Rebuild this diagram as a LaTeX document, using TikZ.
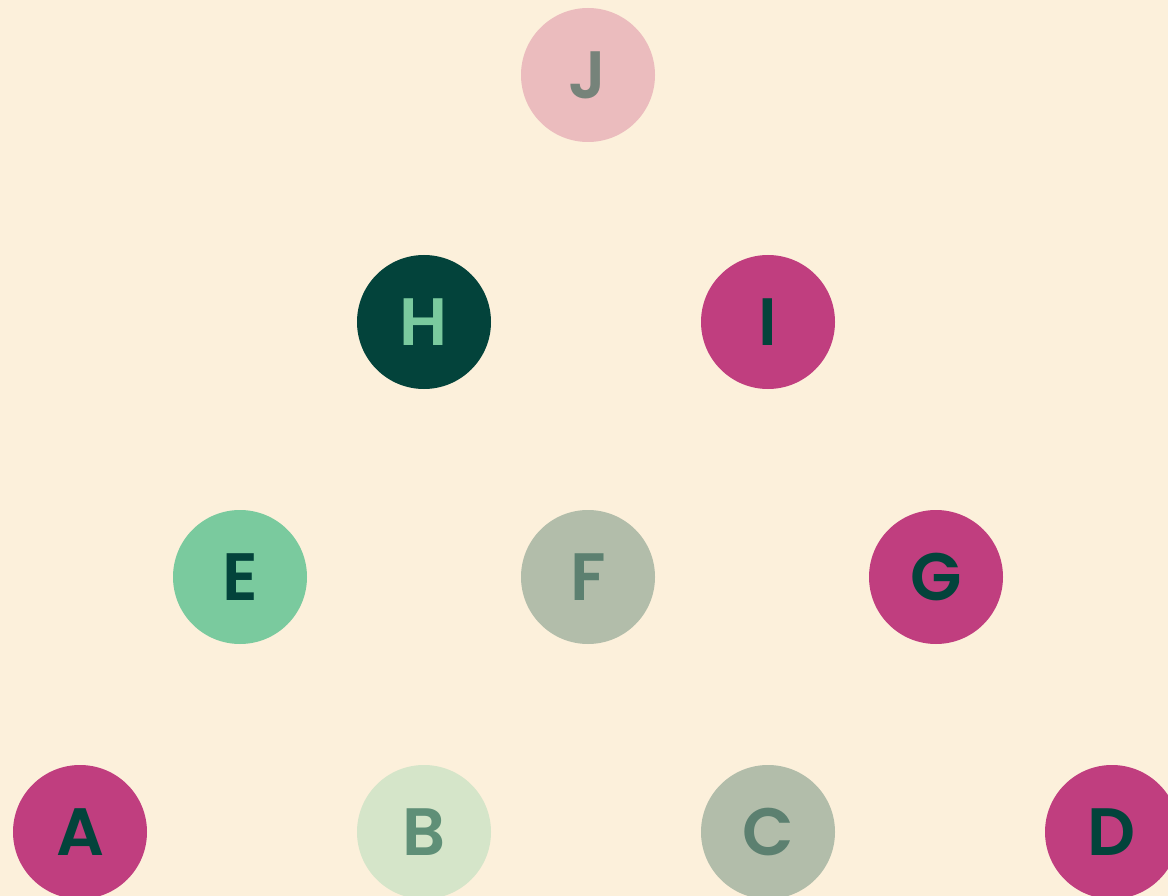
\documentclass[tikz,border=0pt]{standalone}
\usepackage{fontspec}
\setmainfont{Poppins}[BoldFont={Poppins SemiBold}]
\definecolor{bg}{HTML}{FCF0DB}
\definecolor{pinkc}{HTML}{C03E7F}
\definecolor{darkg}{HTML}{03433B}
\definecolor{mintg}{HTML}{7ACA9E}
\definecolor{sageg}{HTML}{B2BDAA}
\definecolor{paleg}{HTML}{D5E5C9}
\definecolor{rose}{HTML}{EBBCBE}
\definecolor{grayt}{HTML}{76837A}
\definecolor{sagetext}{HTML}{5C8070}
\definecolor{btext}{HTML}{5F8F77}
\tikzset{
  ball/.style={circle, minimum size=134pt, inner sep=0pt, font=\fontsize{67}{67}\selectfont\bfseries},
}
\begin{document}
\begin{tikzpicture}[x=1pt,y=-1pt]
\path[fill=bg] (0,0) rectangle (1168,896);
\useasboundingbox (0,0) rectangle (1168,896);
\clip (0,0) rectangle (1168,896);
\node[ball, fill=rose, text=grayt] (J) at (588,75) {J};
\node[ball, fill=darkg, text=mintg] (H) at (424,322) {H};
\node[ball, fill=pinkc, text=darkg] (I) at (768,322) {I};
\node[ball, fill=mintg, text=darkg] (E) at (240,577) {E};
\node[ball, fill=sageg, text=sagetext] (F) at (588,577) {F};
\node[ball, fill=pinkc, text=darkg] (G) at (936,577) {G};
\node[ball, fill=pinkc, text=darkg] (A) at (80,832) {A};
\node[ball, fill=paleg, text=btext] (B) at (424,832) {B};
\node[ball, fill=sageg, text=sagetext] (C) at (768,832) {C};
\node[ball, fill=pinkc, text=darkg] (D) at (1112,832) {D};
\end{tikzpicture}
\end{document}
